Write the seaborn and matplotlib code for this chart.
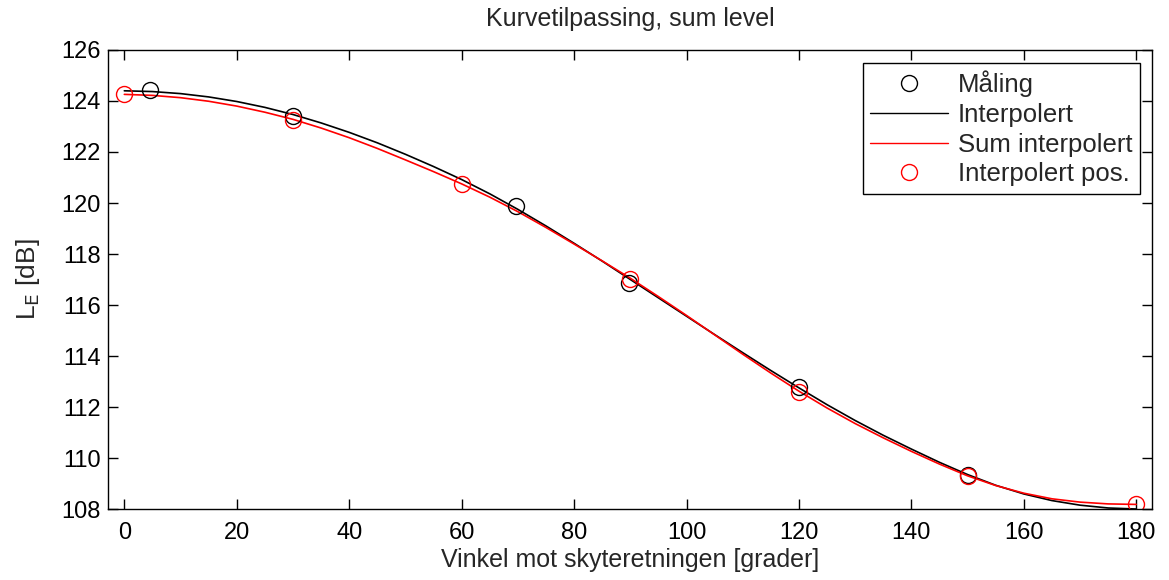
import matplotlib
matplotlib.use("Agg")
import matplotlib.pyplot as plt
import seaborn as sns
import numpy as np
from matplotlib.lines import Line2D

# ---- data ----
curve_x = [0, 5, 10, 15, 20, 25, 30, 35, 40, 45, 50, 55, 60, 65, 70, 75, 80, 85, 90,
           95, 100, 105, 110, 115, 120, 125, 130, 135, 140, 145, 150, 155, 160, 165,
           170, 175, 180]
interp_y = [124.40, 124.37, 124.29, 124.16, 123.98, 123.75, 123.47, 123.14, 122.77,
            122.36, 121.91, 121.43, 120.92, 120.36, 119.75, 119.10, 118.42, 117.72,
            117.00, 116.28, 115.56, 114.84, 114.13, 113.43, 112.75, 112.09, 111.47,
            110.89, 110.35, 109.83, 109.35, 108.93, 108.59, 108.33, 108.15, 108.04,
            108.00]
sum_interp_y = [124.26, 124.22, 124.13, 123.99, 123.80, 123.56, 123.28, 122.94, 122.56,
                122.14, 121.69, 121.23, 120.75, 120.23, 119.66, 119.04, 118.39, 117.73,
                117.05, 116.33, 115.59, 114.83, 114.07, 113.33, 112.62, 111.96, 111.35,
                110.79, 110.26, 109.76, 109.30, 108.92, 108.62, 108.40, 108.27, 108.20,
                108.18]
meas_x = [4.5, 30, 69.7, 89.7, 120, 150]
meas_y = [124.45, 123.42, 119.90, 116.85, 112.77, 109.35]
pos_x = [0, 30, 60, 90, 120, 150, 180]
pos_y = [124.26, 123.25, 120.73, 117.02, 112.60, 109.30, 108.18]

labels = ["Måling", "Interpolert", "Sum interpolert", "Interpolert pos."]
title = "Kurvetilpassing, sum level"
xlabel = "Vinkel mot skyteretningen [grader]"
ylabel = "L$_{\\mathrm{E}}$ [dB]"
xticks = [0, 20, 40, 60, 80, 100, 120, 140, 160, 180]
yticks = [108, 110, 112, 114, 116, 118, 120, 122, 124, 126]

# ---- style ----
sns.set_theme(style="ticks")
plt.rcParams["font.family"] = ["Liberation Sans", "DejaVu Sans"]
plt.rcParams["mathtext.default"] = "regular"
plt.rcParams["axes.linewidth"] = 1.0

fig = plt.figure(figsize=(11.69, 5.80), dpi=100)
ax = fig.add_axes([0.0924, 0.1224, 0.8931, 0.7914])

sns.lineplot(x=curve_x, y=interp_y, ax=ax, color="black", linewidth=1.2, sort=False)
sns.lineplot(x=curve_x, y=sum_interp_y, ax=ax, color="red", linewidth=1.2, sort=False)
ax.plot(meas_x, meas_y, linestyle="none", marker="o", markersize=11.5,
        markerfacecolor="none", markeredgecolor="black", markeredgewidth=1.0)
ax.plot(pos_x, pos_y, linestyle="none", marker="o", markersize=11.5,
        markerfacecolor="none", markeredgecolor="red", markeredgewidth=1.0)

ax.set_xlim(-2.9, 182.8)
ax.set_ylim(108, 126)
ax.set_xticks(xticks)
ax.set_yticks(yticks)
ax.tick_params(direction="in", length=7, width=1.0, labelsize=17, colors="black",
               top=True, right=True)
ax.tick_params(axis="x", pad=9)
ax.tick_params(axis="y", pad=5)
for s in ax.spines.values():
    s.set_visible(True)
    s.set_color("black")

ax.set_title(title, fontsize=18, pad=17)
ax.set_xlabel(xlabel, fontsize=18, labelpad=3)
ax.set_ylabel(ylabel, fontsize=19, labelpad=14)

handles = [
    Line2D([], [], linestyle="none", marker="o", markersize=11.5,
           markerfacecolor="none", markeredgecolor="black"),
    Line2D([], [], color="black", linewidth=1.0),
    Line2D([], [], color="red", linewidth=1.0),
    Line2D([], [], linestyle="none", marker="o", markersize=11.5,
           markerfacecolor="none", markeredgecolor="red"),
]
leg = ax.legend(handles, labels, loc="upper right", fontsize=18.5, frameon=True,
                fancybox=False, edgecolor="black", framealpha=1, borderpad=0.3,
                handlelength=3.0, labelspacing=0.22, handletextpad=0.4,
                borderaxespad=0, bbox_to_anchor=(0.9885, 0.9717))
leg.get_frame().set_linewidth(1.0)

fig.savefig("out.png", dpi=100)
